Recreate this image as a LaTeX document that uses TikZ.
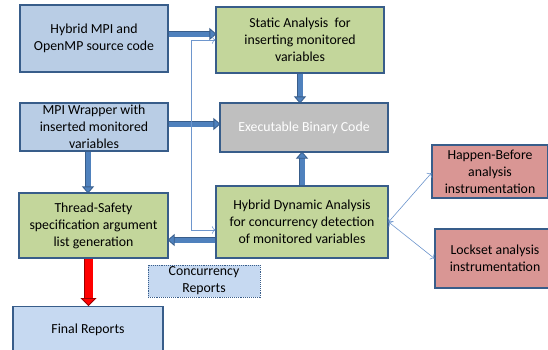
\documentclass[tikz,border=0pt]{standalone}
\usepackage{fontspec}
\setmainfont{Carlito}
\usepackage{xcolor}
\usetikzlibrary{arrows.meta,positioning}
\definecolor{cIn}{RGB}{185,205,229}
\definecolor{cOut}{RGB}{198,217,241}
\definecolor{cStep}{RGB}{195,214,155}
\definecolor{cBin}{RGB}{191,191,191}
\definecolor{cInstr}{RGB}{217,150,148}
\definecolor{cEdge}{RGB}{56,93,138}
\definecolor{cArr}{RGB}{79,129,189}
\definecolor{cThin}{RGB}{110,150,205}
\tikzset{
  box/.style={draw=cEdge, line width=1.1pt, align=center, font=\fontsize{13.8}{17}\selectfont,
              inner sep=1pt},
  inbox/.style={box, fill=cIn},
  stepbox/.style={box, fill=cStep},
  binbox/.style={box, fill=cBin, text=white},
  instrbox/.style={box, fill=cInstr},
  outbox/.style={box, fill=cOut},
  notebox/.style={box, fill=cOut, densely dotted, line width=0.9pt},
  blk/.style={draw=cEdge, line width=0.8pt, double=cArr, double distance=5pt,
              -{Triangle[length=7pt, width=12pt, fill=cArr]}, shorten >=-1pt},
  redblk/.style={draw=red!60!black, line width=0.8pt, double=red, double distance=8pt,
              -{Triangle[length=8pt, width=16pt, fill=red]}},
  thinarr/.style={draw=cThin, line width=0.6pt, {To[length=3.5pt]}-{To[length=3.5pt]}},
}

\begin{document}
\begin{tikzpicture}[x=1pt, y=-1pt]
  \useasboundingbox (0,0) rectangle (548,349);

  % left column
  \node[inbox, minimum width=148pt, minimum height=67pt] (src) at (94,38.5)
       {Hybrid MPI and\\OpenMP source code};
  \node[inbox, minimum width=148pt, minimum height=48pt] (wrap) at (94,127)
       {MPI Wrapper with\\inserted monitored\\variables};
  \node[stepbox, minimum width=149pt, minimum height=65pt] (spec) at (93.5,225.5)
       {Thread-Safety\\specification argument\\list generation};
  \node[outbox, minimum width=150pt, minimum height=52pt, anchor=north] (final) at (88,306)
       {\raisebox{8pt}{Final Reports}};

  % middle column
  \node[stepbox, minimum width=168pt, minimum height=66pt] (static) at (300,40)
       {Static Analysis\ \ for\\inserting monitored\\variables};
  \node[binbox, minimum width=168pt, minimum height=49pt] (exe) at (304,127.5)
       {Executable Binary Code};
  \node[stepbox, minimum width=172pt, minimum height=72pt] (dyn) at (302,222)
       {Hybrid Dynamic Analysis\\for concurrency detection\\of monitored variables};
  \node[notebox, minimum width=112pt, minimum height=32pt, inner sep=0pt] (conc) at (204,281)
       {Concurrency\\Reports};

  % instrumentation
  \node[instrbox, minimum width=116pt, minimum height=53pt] (hb) at (490,171.5)
       {Happen-Before\\analysis\\instrumentation};
  \node[instrbox, minimum width=120pt, minimum height=59pt] (lock) at (495,258.5)
       {Lockset analysis\\instrumentation};

  % thick flow
  \draw[blk] ([yshift=4.5pt]src.east) -- ([yshift=4.5pt]src.east -| static.west);
  \draw[blk] ([yshift=3pt]wrap.east) -- ([yshift=3pt]wrap.east -| exe.west);
  \draw[blk] (static.south) -- (static.south |- exe.north);
  \draw[blk] (dyn.north) -- (dyn.north |- exe.south);
  \draw[blk] ([xshift=-6pt]wrap.south) -- ([xshift=-6pt]wrap.south |- spec.north);
  \draw[blk] ([yshift=-18pt]dyn.west) -- ([yshift=-18pt]dyn.west -| spec.east);
  \draw[redblk] ([xshift=-5pt]spec.south) -- ([xshift=-5pt]spec.south |- final.north);

  % thin links
  \draw[thinarr] (static.west) -- ++(-24,0) |- ([yshift=-8pt]dyn.west);
  \draw[thinarr] (dyn.east) -- ([yshift=-1.5pt]hb.west);
  \draw[thinarr] (dyn.east) -- (lock.west);
\end{tikzpicture}
\end{document}
